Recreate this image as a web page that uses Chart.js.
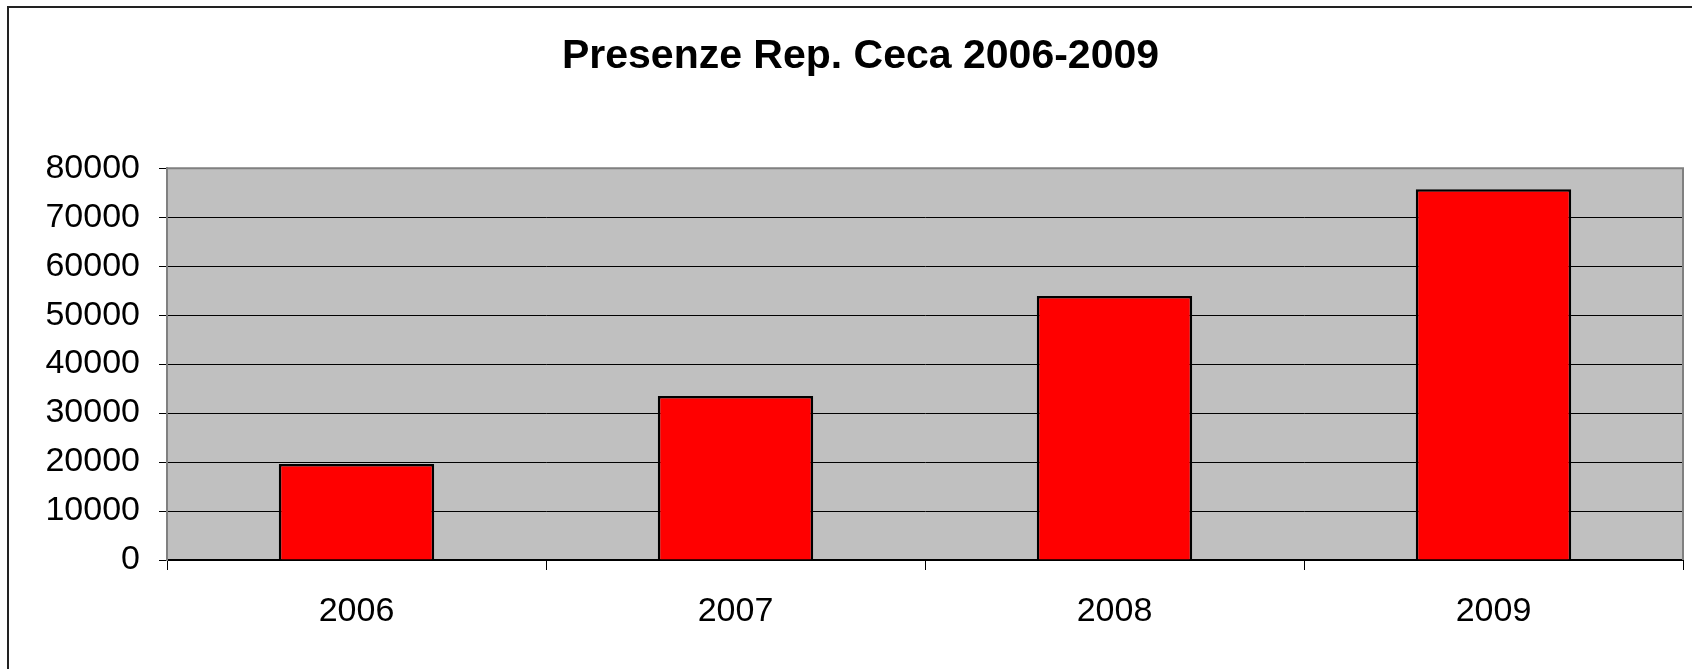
<!DOCTYPE html>
<html>
<head>
<meta charset="utf-8">
<script src="https://cdn.jsdelivr.net/npm/chart.js@4"></script>
<style>
  html, body { margin: 0; padding: 0; background: #fff; }
  #wrap { width: 1692px; height: 669px; position: relative; }
</style>
</head>
<body>
<div id="wrap"><canvas id="chart"></canvas></div>
<script>
const chartTitle = "Presenze Rep. Ceca 2006-2009";
const years = ["2006", "2007", "2008", "2009"];
const presenze = [19600, 33500, 53900, 75700];
const yTicks = [0, 10000, 20000, 30000, 40000, 50000, 60000, 70000, 80000];

// gray plot background + outer chart frame (cropped at right/bottom)
const framePlugin = {
    id: 'frame',
    beforeDraw(chart){
        const ctx = chart.ctx;
        const a = chart.chartArea;
        ctx.save();
        ctx.fillStyle = '#fff';
        ctx.fillRect(0, 0, chart.width, chart.height);
        ctx.strokeStyle = '#222';
        ctx.lineWidth = 2;
        ctx.strokeRect(8, 7, chart.width + 40, chart.height + 40);
        ctx.fillStyle = '#C0C0C0';
        ctx.fillRect(a.left, a.top, a.right - a.left, a.bottom - a.top);
        ctx.restore();
    },
    afterDraw(chart){
        const ctx = chart.ctx;
        const a = chart.chartArea;
        ctx.save();
        ctx.strokeStyle = '#808080';
        ctx.lineWidth = 2;
        ctx.beginPath();
        ctx.moveTo(a.left, a.top);
        ctx.lineTo(a.right, a.top);
        ctx.lineTo(a.right, a.bottom);
        ctx.stroke();
        ctx.restore();
    }
};

new Chart(document.getElementById("chart"), {
    type: 'bar',
    data: {
        labels: years,
        datasets: [{
            label: 'Presenze',
            data: presenze,
            backgroundColor: '#FF0000',
            borderColor: '#000',
            borderWidth: 2.5,
            categoryPercentage: 1,
            barPercentage: 0.41
        }]
    },
    options: {
        responsive: true,
        maintainAspectRatio: false,
        animation: false,
        layout: { padding: { left: 38, right: 9, top: 0, bottom: 0 } },
        plugins: {
            legend: { display: false },
            tooltip: { enabled: false },
            title: {
                display: true,
                text: chartTitle,
                color: '#000',
                font: { family: 'Liberation Sans, Arial, sans-serif', size: 41, weight: 'bold' },
                padding: { top: 32, bottom: 87 }
            }
        },
        scales: {
            x: {
                offset: true,
                grid: { display: true, drawOnChartArea: false, color: '#000', tickLength: 10 },
                border: { display: true, color: '#000', width: 2 },
                ticks: {
                    color: '#000',
                    padding: 21,
                    font: { family: 'Liberation Sans, Arial, sans-serif', size: 34 }
                },
                afterFit(scale){ scale.height = 109; }
            },
            y: {
                min: 0,
                max: 80000,
                afterBuildTicks(scale){ scale.ticks = yTicks.map(v => ({ value: v })); },
                grid: {
                    color: ctx => (ctx.tick && ctx.tick.value === 80000) ? '#808080' : '#000',
                    tickColor: '#000',
                    lineWidth: 1,
                    tickLength: 8
                },
                border: { display: true, color: '#808080', width: 2 },
                ticks: {
                    color: '#000',
                    padding: 19,
                    font: { family: 'Liberation Sans, Arial, sans-serif', size: 34 },
                    callback: v => String(v)
                },
                afterFit(scale){ scale.width = 129; }
            }
        }
    },
    plugins: [framePlugin]
});
</script>
</body>
</html>
